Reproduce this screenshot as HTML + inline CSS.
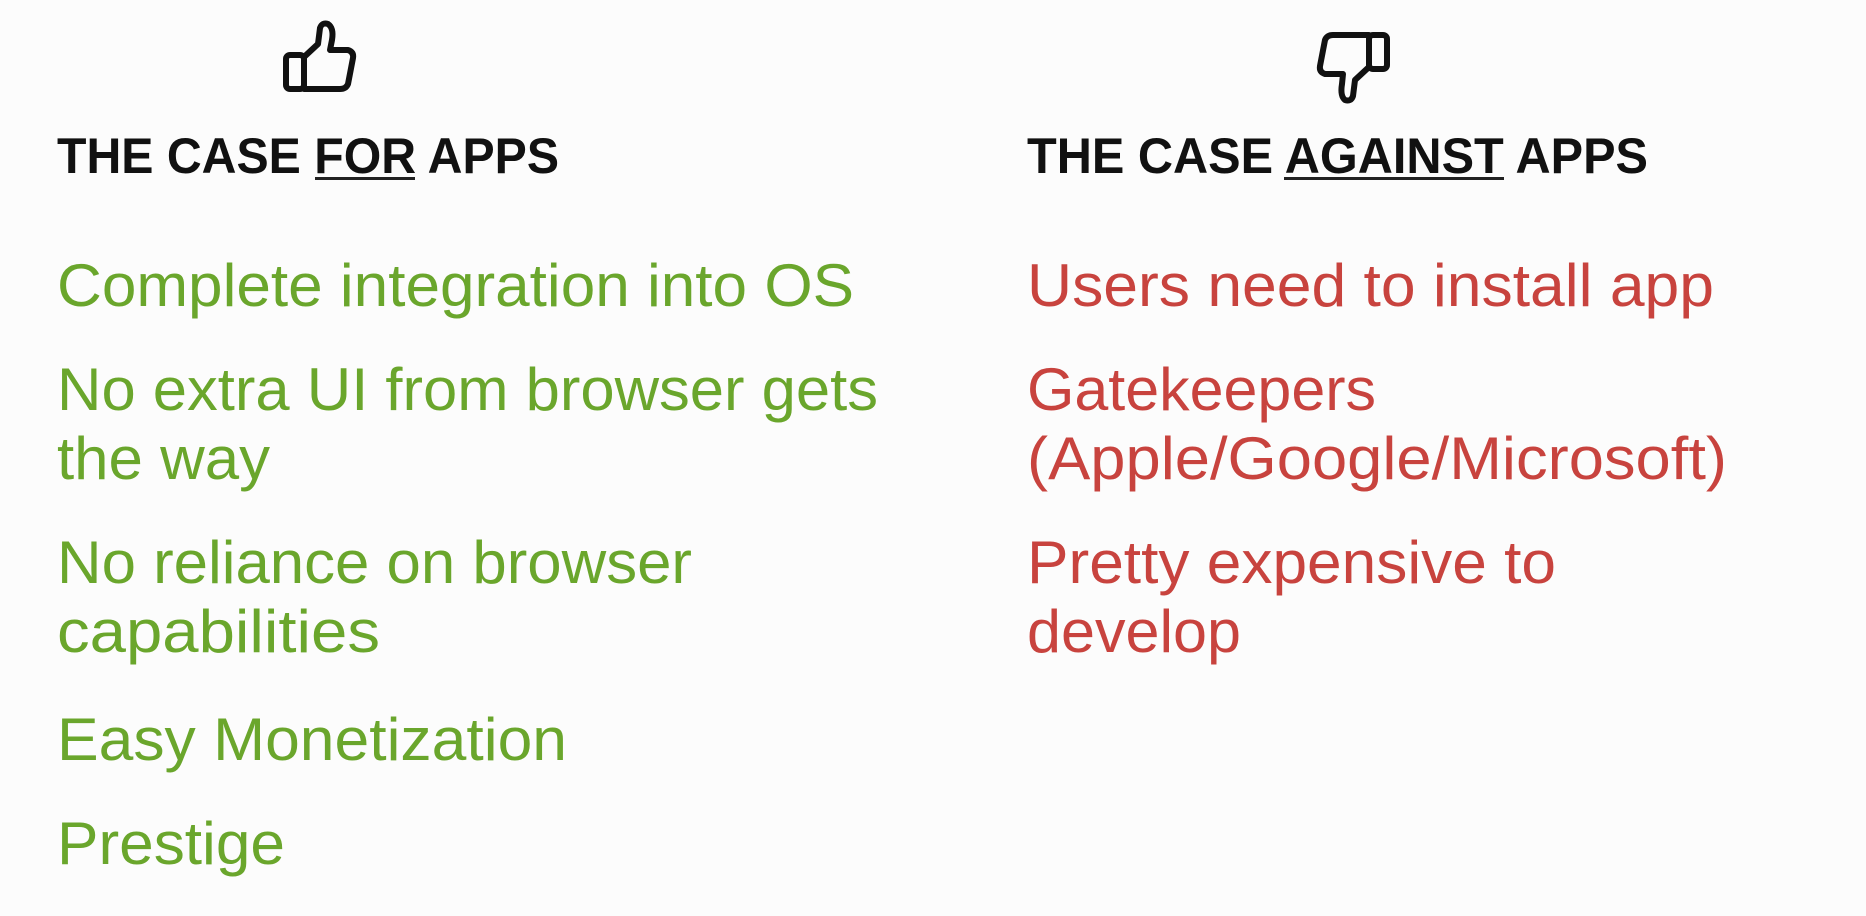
<!DOCTYPE html>
<html><head><meta charset="utf-8"><style>
html,body{margin:0;padding:0;background:#fcfcfc;}
svg{display:block}
</style></head><body>
<svg width="1866" height="916" viewBox="0 0 1866 916" xmlns="http://www.w3.org/2000/svg">
<rect width="1866" height="916" fill="#fcfcfc"/>
<!-- thumbs up -->
<g fill="none" stroke="#111" stroke-width="6" stroke-linejoin="round" stroke-linecap="round">
<rect x="286" y="55" width="18" height="34" rx="4"/>
<path d="M304 57 L318 44 L320 28 Q322 22 328 24 Q334 28 332 40 L330 50 L348 50 Q354 52 353 58 L348 84 Q346 89 340 89 L304 89 Z"/>
</g>
<!-- thumbs down -->
<g transform="translate(-5,0)" fill="none" stroke="#111" stroke-width="6" stroke-linejoin="round" stroke-linecap="round">
<rect x="1374" y="35" width="18" height="34" rx="4"/>
<path d="M1374 67 L1360 80 L1358 96 Q1356 102 1350 100 Q1345 96 1347 84 L1348 74 L1330 74 Q1324 72 1325 66 L1330 40 Q1332 35 1338 35 L1374 35 Z"/>
</g>
<g font-family="Liberation Sans, sans-serif" font-weight="bold" font-size="50" fill="#111">
<text x="57" y="173" textLength="502" lengthAdjust="spacingAndGlyphs">THE CASE FOR APPS</text>
<text x="1027" y="173" textLength="621" lengthAdjust="spacingAndGlyphs">THE CASE AGAINST APPS</text>
</g>
<rect x="315" y="177" width="100" height="3" fill="#222"/>
<rect x="1284" y="177" width="220" height="3" fill="#222"/>
<g font-family="Liberation Sans, sans-serif" font-size="60" fill="#6aa62c">
<text x="57" y="306" textLength="797" lengthAdjust="spacingAndGlyphs">Complete integration into OS</text>
<text x="57" y="410" textLength="821" lengthAdjust="spacingAndGlyphs">No extra UI from browser gets</text>
<text x="57" y="479" textLength="213" lengthAdjust="spacingAndGlyphs">the way</text>
<text x="57" y="583" textLength="635" lengthAdjust="spacingAndGlyphs">No reliance on browser</text>
<text x="57" y="652" textLength="323" lengthAdjust="spacingAndGlyphs">capabilities</text>
<text x="57" y="760" textLength="510" lengthAdjust="spacingAndGlyphs">Easy Monetization</text>
<text x="57" y="864" textLength="228" lengthAdjust="spacingAndGlyphs">Prestige</text>
</g>
<g font-family="Liberation Sans, sans-serif" font-size="60" fill="#c8433e">
<text x="1027" y="306" textLength="687" lengthAdjust="spacingAndGlyphs">Users need to install app</text>
<text x="1027" y="410" textLength="349" lengthAdjust="spacingAndGlyphs">Gatekeepers</text>
<text x="1027" y="479" textLength="700" lengthAdjust="spacingAndGlyphs">(Apple/Google/Microsoft)</text>
<text x="1027" y="583" textLength="529" lengthAdjust="spacingAndGlyphs">Pretty expensive to</text>
<text x="1027" y="652" textLength="214" lengthAdjust="spacingAndGlyphs">develop</text>
</g>
</svg>
</body></html>
